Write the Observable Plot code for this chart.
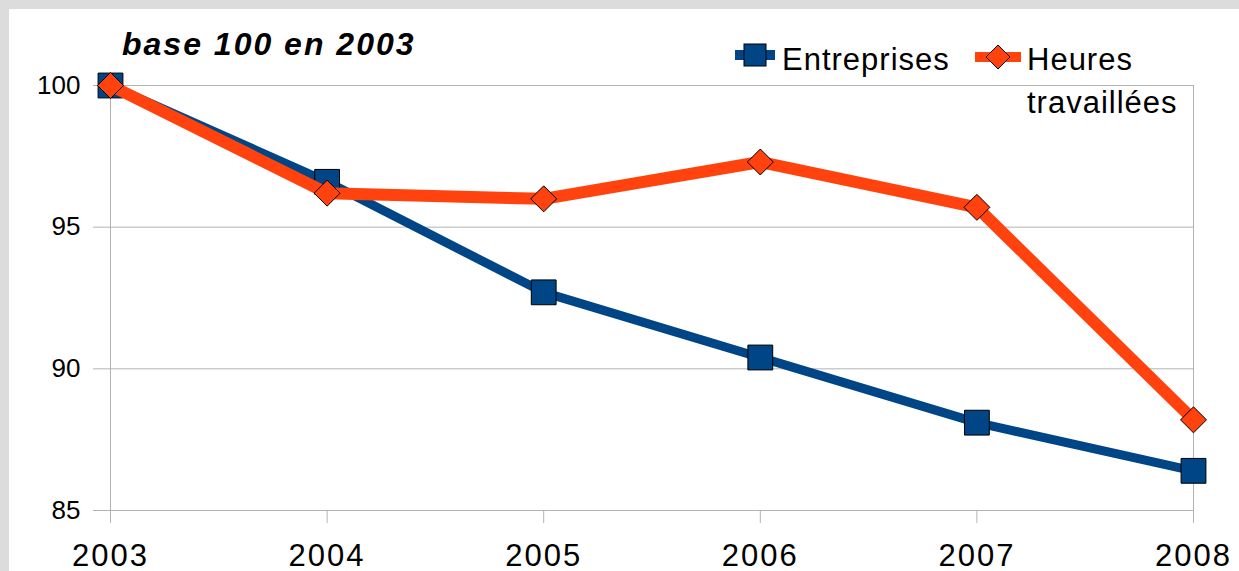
<!DOCTYPE html>
<html>
<head>
<meta charset="utf-8">
<script src="https://cdn.jsdelivr.net/npm/d3@7"></script>
<script src="https://cdn.jsdelivr.net/npm/@observablehq/plot@0.6"></script>
<style>
  html, body { margin: 0; padding: 0; }
  body { width: 1239px; height: 571px; background: #dcdcdc; position: relative; overflow: hidden;
         font-family: "Liberation Sans", Arial, sans-serif; }
  #panel { position: absolute; left: 9px; top: 9px; width: 1230px; height: 562px; background: #fff; }
  #chart { position: absolute; left: 0; top: 0; }
  #chart svg { background: transparent; }
  g[aria-label="x-axis tick label"] text { letter-spacing: 2px; }
  .txt { position: absolute; line-height: 1; white-space: nowrap; color: #000; }
  .title { left: 122px; top: 28px; font-size: 32px; font-weight: bold; font-style: italic; letter-spacing: 2px; }
  .leg { font-size: 31px; letter-spacing: 1px; }
  .sw { position: absolute; }
</style>
</head>
<body>
<div id="panel"></div>
<div id="chart"></div>
<div class="txt title">base 100 en 2003</div>
<svg class="sw" style="left:733px;top:42px" width="44" height="26">
  <line x1="2" x2="42" y1="13" y2="13" stroke="#004586" stroke-width="10"/>
  <rect x="11" y="2" width="22" height="22" fill="#004586" stroke="#000" stroke-width="1"/>
</svg>
<div class="txt leg" style="left:782px;top:44px">Entreprises</div>
<svg class="sw" style="left:975px;top:43px" width="46" height="28">
  <line x1="0" x2="46" y1="14" y2="14" stroke="#ff420e" stroke-width="10"/>
  <path d="M23,2 L35,14 L23,26 L11,14 Z" fill="#ff420e" stroke="#000" stroke-width="1"/>
</svg>
<div class="txt leg" style="left:1027px;top:44px">Heures</div>
<div class="txt leg" style="left:1027px;top:87px">travaillées</div>
<script>
const years = [2003, 2004, 2005, 2006, 2007, 2008];
const entreprises = [100, 96.6, 92.7, 90.4, 88.1, 86.4];
const heures = [100, 96.2, 96.0, 97.3, 95.7, 88.2];
const yTicks = [85, 90, 95, 100];
const frameYears = [2003, 2008];

const entRows = years.map((yr, i) => ({year: yr, value: entreprises[i]}));
const heuRows = years.map((yr, i) => ({year: yr, value: heures[i]}));

const grid = "#b3b3b3";
const chart = Plot.plot({
  width: 1239,
  height: 571,
  marginLeft: 110,
  marginRight: 46,
  marginTop: 85,
  marginBottom: 61,
  style: {fontFamily: "'Liberation Sans', Arial, sans-serif", background: "transparent", color: "#000"},
  x: {domain: [2003, 2008]},
  y: {domain: [85, 100]},
  marks: [
    Plot.gridY(yTicks, {stroke: grid, strokeOpacity: 1}),
    Plot.ruleX(frameYears, {stroke: grid}),
    Plot.axisY(yTicks, {tickSize: 17, tickPadding: 13, stroke: grid, strokeOpacity: 1, fill: "#000", fontSize: 26, label: null}),
    Plot.axisX(years, {tickSize: 13, tickPadding: 20, stroke: grid, strokeOpacity: 1, fill: "#000", fontSize: 31, tickFormat: d => String(d), label: null}),
    Plot.line(entRows, {x: "year", y: "value", stroke: "#004586", strokeWidth: 9, strokeLinejoin: "round"}),
    Plot.dot(entRows, {x: "year", y: "value", symbol: "square", r: 14, fill: "#004586", stroke: "#000", strokeWidth: 1}),
    Plot.line(heuRows, {x: "year", y: "value", stroke: "#ff420e", strokeWidth: 12, strokeLinejoin: "round"}),
    Plot.dot(heuRows, {x: "year", y: "value", symbol: "diamond2", r: 11.7, fill: "#ff420e", stroke: "#000", strokeWidth: 1})
  ]
});
document.getElementById("chart").appendChild(chart);
</script>
</body>
</html>
